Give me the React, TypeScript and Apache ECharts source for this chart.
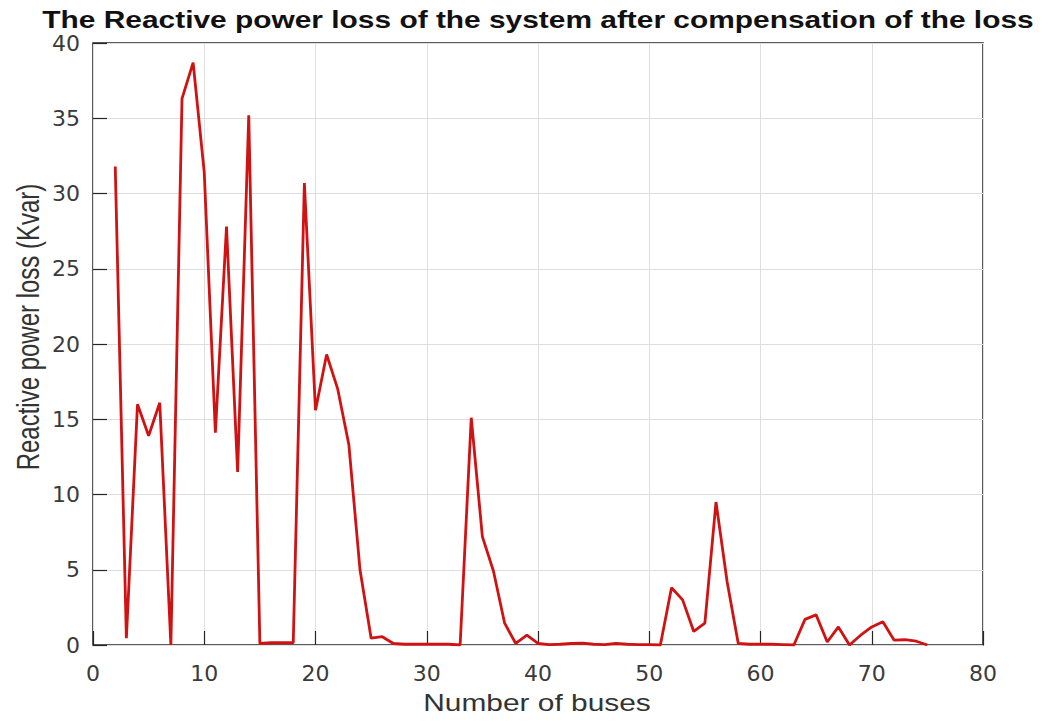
import React, { useEffect, useRef } from "react";
import * as echarts from "echarts";

const buses = [2,3,4,5,6,7,8,9,10,11,12,13,14,15,16,17,18,19,20,21,22,23,24,25,26,27,28,29,30,31,32,33,34,35,36,37,38,39,40,41,42,43,44,45,46,47,48,49,50,51,52,53,54,55,56,57,58,59,60,61,62,63,64,65,66,67,68,69,70,71,72,73,74,75];
const loss = [31.8,0.45,16.0,13.9,16.1,0.0,36.3,38.7,31.4,14.1,27.8,11.5,35.2,0.1,0.15,0.15,0.15,30.7,15.6,19.3,17.0,13.3,5.0,0.45,0.55,0.1,0.05,0.05,0.05,0.05,0.05,0.0,15.1,7.2,4.9,1.45,0.1,0.65,0.1,0.02,0.05,0.1,0.12,0.05,0.02,0.1,0.05,0.02,0.02,0.0,3.8,3.0,0.9,1.45,9.5,4.2,0.1,0.05,0.05,0.05,0.03,0.0,1.7,2.0,0.2,1.2,0.0,0.65,1.2,1.55,0.33,0.35,0.25,0.0];
const xTicks = [0,10,20,30,40,50,60,70,80];
const yTicks = [0,5,10,15,20,25,30,35,40];

const titleText = "The Reactive power loss of the system after compensation of the loss";
const xName = "Number of buses";
const yName = "Reactive power loss (Kvar)";

export default function App() {
  const ref = useRef<HTMLDivElement>(null);
  useEffect(() => {
    document.body.style.margin = "0";
    const chart = echarts.init(ref.current!, null, { renderer: "svg" });
    const tickFont = "DejaVu Sans, Liberation Sans, sans-serif";
    const TL = 7;
    const tick = { show: true, inside: false, length: TL, lineStyle: { color: "#262626", width: 1.2 } };
    const split = { show: true, lineStyle: { color: "#dedede", width: 1 } };
    const noLine = { show: false };
    chart.setOption({
      animation: false,
      backgroundColor: "#ffffff",
      graphic: [
        {
          type: "text",
          x: 538,
          y: 20,
          scaleX: 1.3,
          style: {
            text: titleText,
            font: "bold 23px Liberation Sans, Arial, sans-serif",
            fill: "#111111",
            textAlign: "center",
            textVerticalAlign: "middle",
          },
        },
        {
          type: "text",
          x: 537,
          y: 703,
          scaleX: 1.3,
          style: {
            text: xName,
            font: "23px Liberation Sans, Arial, sans-serif",
            fill: "#333333",
            textAlign: "center",
            textVerticalAlign: "middle",
          },
        },
        {
          type: "text",
          x: 28,
          y: 327,
          rotation: Math.PI / 2,
          scaleY: 1.3,
          style: {
            text: yName,
            font: "24px Liberation Sans, Arial, sans-serif",
            fill: "#333333",
            textAlign: "center",
            textVerticalAlign: "middle",
          },
        },
      ],
      grid: {
        left: 93,
        right: 63,
        top: 43,
        bottom: 77,
        show: true,
        borderColor: "#262626",
        borderWidth: 1.5,
        backgroundColor: "transparent",
      },
      xAxis: [
        {
          type: "value",
          min: xTicks[0],
          max: xTicks[xTicks.length - 1],
          interval: 10,
          offset: -TL,
          axisLine: noLine,
          axisTick: tick,
          splitLine: split,
          axisLabel: { fontFamily: tickFont, fontSize: 22, color: "#3a3a3a", margin: 17 + TL },
        },
        {
          type: "value",
          position: "top",
          min: xTicks[0],
          max: xTicks[xTicks.length - 1],
          interval: 10,
          offset: -TL,
          axisLine: noLine,
          axisTick: tick,
          splitLine: { show: false },
          axisLabel: { show: false },
        },
      ],
      yAxis: [
        {
          type: "value",
          min: yTicks[0],
          max: yTicks[yTicks.length - 1],
          interval: 5,
          offset: -TL,
          axisLine: noLine,
          axisTick: tick,
          splitLine: split,
          axisLabel: { fontFamily: tickFont, fontSize: 22, color: "#3a3a3a", margin: 13 + TL },
        },
        {
          type: "value",
          position: "right",
          min: yTicks[0],
          max: yTicks[yTicks.length - 1],
          interval: 5,
          offset: -TL,
          axisLine: noLine,
          axisTick: tick,
          splitLine: { show: false },
          axisLabel: { show: false },
        },
      ],
      series: [
        {
          type: "line",
          data: buses.map((b, i) => [b, loss[i]]),
          showSymbol: false,
          symbol: "none",
          lineStyle: { color: "#d01212", width: 2.8 },
          xAxisIndex: 0,
          yAxisIndex: 0,
        },
      ],
    });
    return () => chart.dispose();
  }, []);
  return <div ref={ref} style={{ width: 1046, height: 722 }} />;
}
